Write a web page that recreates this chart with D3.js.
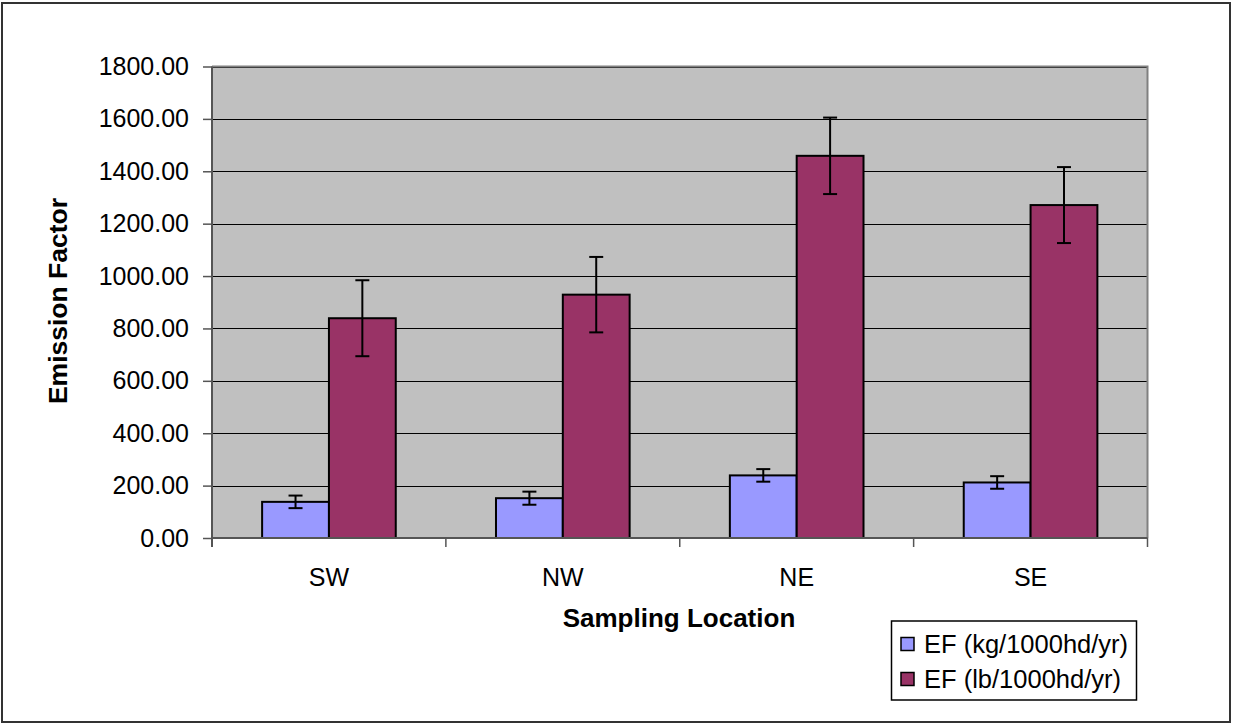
<!DOCTYPE html>
<html>
<head>
<meta charset="utf-8">
<script src="https://cdn.jsdelivr.net/npm/d3@7"></script>
<style>
  html, body { margin: 0; padding: 0; background: #fff; }
  svg { display: block; font-family: "Liberation Sans", Arial, sans-serif; }
</style>
</head>
<body>
<svg id="chart" width="1233" height="727"></svg>
<script>
const categories = ["SW", "NW", "NE", "SE"];
const seriesNames = ["EF (kg/1000hd/yr)", "EF (lb/1000hd/yr)"];
const kgValues = [138, 152, 239, 212];
const kgErrors = [24, 25, 24, 24];
const lbValues = [839, 929, 1459, 1271];
const lbErrors = [145, 144, 146, 145];
const yTicks = [0, 200, 400, 600, 800, 1000, 1200, 1400, 1600, 1800];
const colors = ["#9999FF", "#993366"];

const svg = d3.select("#chart");
const m = { left: 212, top: 66.5, right: 1147.5, bottom: 538 };

// outer chart border
svg.append("rect").attr("x", 2).attr("y", 3).attr("width", 1228).attr("height", 719)
  .attr("fill", "#fff").attr("stroke", "#333").attr("stroke-width", 2);

const x = d3.scaleBand().domain(categories).range([m.left, m.right]).paddingInner(0).paddingOuter(0);
const x1 = d3.scaleBand().domain([0, 1]).range([0, x.bandwidth()]).paddingInner(0).paddingOuter(0.75);
const y = d3.scaleLinear().domain([0, 1800]).range([m.bottom, m.top]);

// plot area
svg.append("rect").attr("x", m.left).attr("y", m.top)
  .attr("width", m.right - m.left).attr("height", m.bottom - m.top)
  .attr("fill", "#C0C0C0");

// gridlines
svg.append("g").selectAll("line").data(yTicks.filter(d => d > 0)).join("line")
  .attr("x1", m.left).attr("x2", m.right)
  .attr("y1", d => Math.round(y(d)) + 0.5).attr("y2", d => Math.round(y(d)) + 0.5)
  .attr("stroke", "#000").attr("stroke-width", 1);

// plot area border (top/right)
svg.append("path")
  .attr("d", `M${m.left},${m.top}H${m.right}V${m.bottom}`)
  .attr("fill", "none").attr("stroke", "#808080").attr("stroke-width", 2);

// bars
const data = categories.map((c, i) => [
  { cat: c, s: 0, v: kgValues[i], e: kgErrors[i] },
  { cat: c, s: 1, v: lbValues[i], e: lbErrors[i] }
]).flat();

svg.append("g").selectAll("rect.bar").data(data).join("rect")
  .attr("class", "bar")
  .attr("x", d => x(d.cat) + x1(d.s))
  .attr("y", d => y(d.v))
  .attr("width", x1.bandwidth())
  .attr("height", d => y(0) - y(d.v))
  .attr("fill", d => colors[d.s])
  .attr("stroke", "#000").attr("stroke-width", 2);

// error bars
const eb = svg.append("g").attr("stroke", "#000").attr("stroke-width", 2);
data.forEach(d => {
  const cx = x(d.cat) + x1(d.s) + x1.bandwidth() / 2;
  eb.append("line").attr("x1", cx).attr("x2", cx).attr("y1", y(d.v + d.e)).attr("y2", y(d.v - d.e));
  eb.append("line").attr("x1", cx - 7).attr("x2", cx + 7).attr("y1", y(d.v + d.e)).attr("y2", y(d.v + d.e));
  eb.append("line").attr("x1", cx - 7).attr("x2", cx + 7).attr("y1", y(d.v - d.e)).attr("y2", y(d.v - d.e));
});

// y axis
const yAxis = svg.append("g").attr("transform", `translate(${m.left},0)`)
  .call(d3.axisLeft(y).tickValues(yTicks).tickFormat(d3.format(".2f")).tickSize(9).tickPadding(14));
yAxis.select(".domain").attr("stroke", "#555").attr("stroke-width", 2).attr("d", `M0,${m.top}V${m.bottom + 9}`);
yAxis.selectAll(".tick line").attr("stroke", "#555").attr("stroke-width", 1.5);
yAxis.selectAll(".tick text").attr("font-size", 25).attr("fill", "#000")
  .attr("font-family", "Liberation Sans, Arial, sans-serif");

// x axis
const xAxis = svg.append("g").attr("transform", `translate(0,${m.bottom})`)
  .call(d3.axisBottom(x).tickSize(0).tickPadding(30));
xAxis.select(".domain").attr("stroke", "#555").attr("stroke-width", 2).attr("d", `M${m.left},0H${m.right}`);
xAxis.selectAll(".tick text").attr("font-size", 25).attr("fill", "#000")
  .attr("font-family", "Liberation Sans, Arial, sans-serif");
const bounds = categories.map(c => x(c)).concat([m.right]);
xAxis.append("g").selectAll("line").data(bounds).join("line")
  .attr("x1", d => d).attr("x2", d => d).attr("y1", 0).attr("y2", 9)
  .attr("stroke", "#555").attr("stroke-width", 1.5);

// axis titles
svg.append("text").attr("x", 679).attr("y", 627)
  .attr("text-anchor", "middle").attr("font-size", 26).attr("font-weight", "bold")
  .text("Sampling Location");
svg.append("text").attr("transform", `translate(67,301) rotate(-90)`)
  .attr("text-anchor", "middle").attr("font-size", 26.5).attr("font-weight", "bold")
  .text("Emission Factor");

// legend
const lg = svg.append("g");
lg.append("rect").attr("x", 891.5).attr("y", 621).attr("width", 245).attr("height", 79)
  .attr("fill", "#fff").attr("stroke", "#000").attr("stroke-width", 1.5);
seriesNames.forEach((name, i) => {
  const cy = 644 + i * 35;
  lg.append("rect").attr("x", 901).attr("y", cy - 6.5).attr("width", 13).attr("height", 13)
    .attr("fill", colors[i]).attr("stroke", "#000").attr("stroke-width", 1.5);
  lg.append("text").attr("x", 924).attr("y", cy + 9).attr("font-size", 25.5).text(name);
});
</script>
</body>
</html>
